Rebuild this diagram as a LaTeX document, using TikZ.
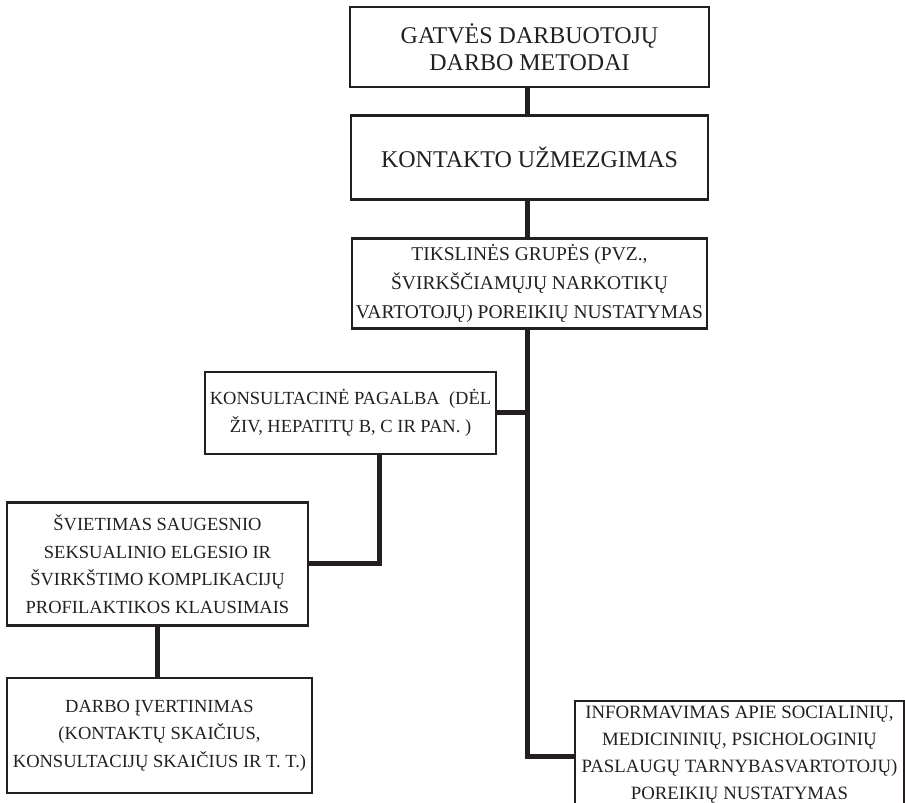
\documentclass[tikz,border=0pt]{standalone}
\usepackage{fontspec}
\setmainfont{Liberation Serif}
\usetikzlibrary{positioning}
\definecolor{Ink}{HTML}{231F20}

\begin{document}
\begin{tikzpicture}[
  x=1pt, y=1pt,
  box/.style={draw=Ink, line width=2.6pt, align=center, inner sep=2pt,
              text=Ink, font=\fontsize{18.5}{27.5}\selectfont},
  head/.style={box, font=\fontsize{24}{27}\selectfont},
  link/.style={draw=Ink, line width=5pt},
  node distance=36pt
]
  \useasboundingbox (0,0) rectangle (905,-803);

  \node[head, minimum width=359pt, minimum height=80pt] (metodai) at (529.5,-47)
    {GATVĖS DARBUOTOJŲ\\DARBO METODAI};
  \node[head, minimum width=357pt, minimum height=84pt, below=26pt of metodai] (kontaktas)
    {KONTAKTO UŽMEZGIMAS};
  \node[box, minimum width=355pt, minimum height=90pt, below=of kontaktas,
        font=\fontsize{19.5}{29}\selectfont] (poreikiai)
    {TIKSLINĖS GRUPĖS (PVZ.,\\ŠVIRKŠČIAMŲJŲ NARKOTIKŲ\\VARTOTOJŲ) POREIKIŲ NUSTATYMAS};
  \node[box, minimum width=291pt, minimum height=82pt,
        below=41pt of poreikiai, xshift=-179pt] (konsultacija)
    {KONSULTACINĖ PAGALBA\ \ (DĖL\\ŽIV, HEPATITŲ B, C IR PAN. )};
  \node[box, minimum width=301pt, minimum height=123pt,
        below=46pt of konsultacija, xshift=-193pt] (svietimas)
    {ŠVIETIMAS SAUGESNIO\\SEKSUALINIO ELGESIO IR\\ŠVIRKŠTIMO KOMPLIKACIJŲ\\PROFILAKTIKOS KLAUSIMAIS};
  \node[box, minimum width=305pt, minimum height=115pt,
        below=50pt of svietimas, xshift=2pt] (vertinimas)
    {DARBO ĮVERTINIMAS\\(KONTAKTŲ SKAIČIUS,\\KONSULTACIJŲ SKAIČIUS IR T. T.)};
  \node[box, minimum width=329pt, minimum height=121pt, text depth=18pt,
        font=\fontsize{18.8}{27}\selectfont,
        below=370pt of poreikiai, xshift=210pt] (informavimas)
    {INFORMAVIMAS APIE SOCIALINIŲ,\\MEDICININIŲ, PSICHOLOGINIŲ\\PASLAUGŲ TARNYBASVARTOTOJŲ)\\POREIKIŲ NUSTATYMAS};

  \coordinate (trunk) at ([xshift=-2.5pt]poreikiai.south);
  \draw[link] ([xshift=-2.5pt]metodai.south) -- ([xshift=-2.5pt]kontaktas.north);
  \draw[link] ([xshift=-2.5pt]kontaktas.south) -- ([xshift=-2.5pt]poreikiai.north);
  \draw[link] (trunk) |- ([yshift=5pt]informavimas.west);
  \draw[link] (konsultacija.east) -- (konsultacija.east -| trunk);
  \draw[link] ([xshift=28.5pt]konsultacija.south) |- (svietimas.east);
  \draw[link] (svietimas.south) -- (svietimas.south |- vertinimas.north);
\end{tikzpicture}
\end{document}
